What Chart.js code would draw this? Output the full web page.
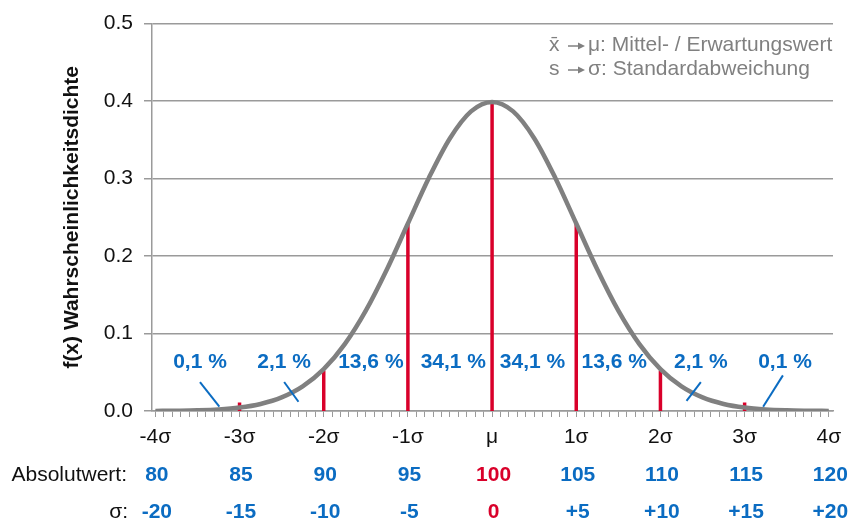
<!DOCTYPE html>
<html>
<head>
<meta charset="utf-8">
<script src="https://cdn.jsdelivr.net/npm/chart.js@4/dist/chart.umd.min.js"></script>
<style>
  body { margin: 0; background: #fff; }
  #wrap { width: 853px; height: 528px; position: relative; }
</style>
</head>
<body>
<div id="wrap"><canvas id="chart"></canvas></div>
<script>
// curve (x in sigma units)
var xSigma = [-4, -3.75, -3.5, -3.25, -3, -2.75, -2.5, -2.25, -2, -1.75, -1.5, -1.25, -1, -0.75, -0.5, -0.25,
              0, 0.25, 0.5, 0.75, 1, 1.25, 1.5, 1.75, 2, 2.25, 2.5, 2.75, 3, 3.25, 3.5, 3.75, 4];
var density = [0.0001, 0.0004, 0.0009, 0.002, 0.0044, 0.0091, 0.0175, 0.0317, 0.054, 0.0863, 0.1295, 0.1826, 0.242, 0.3011, 0.3521, 0.3867,
               0.3989, 0.3867, 0.3521, 0.3011, 0.242, 0.1826, 0.1295, 0.0863, 0.054, 0.0317, 0.0175, 0.0091, 0.0044, 0.002, 0.0009, 0.0004, 0.0001];

// red markers at the sigma borders
var markerX = [-3, -2, -1, 0, 1, 2, 3];
var markerH = [0.011, 0.052, 0.242, 0.399, 0.242, 0.052, 0.011];

var xTickLabels = ['-4σ', '-3σ', '-2σ', '-1σ', 'μ', '1σ', '2σ', '3σ', '4σ'];
var absValues = ['80', '85', '90', '95', '100', '105', '110', '115', '120'];
var sigmaValues = ['-20', '-15', '-10', '-5', '0', '+5', '+10', '+15', '+20'];

// percentage labels
var pctText = ['0,1 %', '2,1 %', '13,6 %', '34,1 %', '34,1 %', '13,6 %', '2,1 %', '0,1 %'];
var pctX = [-3.47, -2.47, -1.44, -0.46, 0.48, 1.45, 2.48, 3.48];
var pctY = 0.063;

// leader lines [x1, y1, x2, y2]
var leaders = [
  [-3.47, 0.0374, -3.24, 0.0055],
  [-2.47, 0.0374, -2.30, 0.0119],
  [2.48, 0.0374, 2.31, 0.0131],
  [3.455, 0.046, 3.22, 0.0055]
];

// legend: [left symbol, right text]
var legendLeft = ['x\u0304', 's'];
var legendRight = ['μ: Mittel- / Erwartungswert', 'σ: Standardabweichung'];

var BLUE = '#0b6cc2';
var RED = '#d9002a';
var GREY = '#808080';
var FONT = '"Liberation Sans", Arial, sans-serif';

var curvePts = xSigma.map(function (x, i) { return {x: x, y: density[i]}; });
var markerPts = [];
markerX.forEach(function (x, i) {
  markerPts.push({x: x, y: 0});
  markerPts.push({x: x, y: markerH[i]});
  markerPts.push({x: x, y: null});
});

var extras = {
  id: 'extras',
  afterDraw: function (chart) {
    var ctx = chart.ctx;
    var xs = chart.scales.x, ys = chart.scales.y;
    ctx.save();

    // leader lines
    ctx.strokeStyle = BLUE;
    ctx.lineWidth = 2;
    leaders.forEach(function (l) {
      ctx.beginPath();
      ctx.moveTo(xs.getPixelForValue(l[0]), ys.getPixelForValue(l[1]));
      ctx.lineTo(xs.getPixelForValue(l[2]), ys.getPixelForValue(l[3]));
      ctx.stroke();
    });

    // percent labels
    ctx.font = 'bold 21px ' + FONT;
    ctx.fillStyle = BLUE;
    ctx.textAlign = 'center';
    ctx.textBaseline = 'middle';
    pctText.forEach(function (t, i) {
      ctx.fillText(t, xs.getPixelForValue(pctX[i]), ys.getPixelForValue(pctY));
    });

    // legend text
    ctx.fillStyle = GREY;
    ctx.strokeStyle = GREY;
    ctx.textAlign = 'left';
    for (var i = 0; i < 2; i++) {
      var ly = 45 + i * 24;
      ctx.font = '21px ' + FONT;
      ctx.fillText(legendLeft[i], 549, ly);
      // small arrow
      ctx.lineWidth = 1.5;
      ctx.beginPath();
      ctx.moveTo(568, ly + 1);
      ctx.lineTo(580, ly + 1);
      ctx.stroke();
      ctx.beginPath();
      ctx.moveTo(585, ly + 1);
      ctx.lineTo(578, ly - 2.5);
      ctx.lineTo(578, ly + 4.5);
      ctx.closePath();
      ctx.fill();
      ctx.fillText(legendRight[i], 588, ly);
    }

    // value rows under the axis
    var rowY = [475, 512];
    ctx.font = '21px ' + FONT;
    ctx.fillStyle = '#111';
    ctx.textAlign = 'right';
    ctx.fillText('Absolutwert:', 127, rowY[0]);
    ctx.fillText('σ:', 128, rowY[1]);
    ctx.font = 'bold 21px ' + FONT;
    ctx.textAlign = 'center';
    for (var k = 0; k < absValues.length; k++) {
      var px = xs.getPixelForValue(k - 4) + 1.5;
      ctx.fillStyle = (k === 4) ? RED : BLUE;
      ctx.fillText(absValues[k], px, rowY[0]);
      ctx.fillText(sigmaValues[k], px, rowY[1]);
    }
    ctx.restore();
  }
};

var chart = new Chart(document.getElementById('chart'), {
  type: 'line',
  data: {
    datasets: [
      {
        label: 'f(x)',
        data: curvePts,
        borderColor: GREY,
        borderWidth: 4.5,
        pointRadius: 0,
        cubicInterpolationMode: 'monotone',
        order: 1
      },
      {
        label: 'sigma',
        data: markerPts,
        borderColor: RED,
        borderWidth: 3.5,
        pointRadius: 0,
        spanGaps: false,
        order: 2
      }
    ]
  },
  options: {
    responsive: true,
    maintainAspectRatio: false,
    animation: false,
    layout: { padding: { top: 19, right: 20, left: 0, bottom: 0 } },
    plugins: { legend: { display: false }, tooltip: { enabled: false } },
    scales: {
      x: {
        type: 'linear',
        min: -4.04,
        max: 4.05,
        afterBuildTicks: function (scale) {
          var t = [];
          for (var k = -40; k <= 40; k++) t.push({value: k / 10});
          scale.ticks = t;
        },
        afterFit: function (scale) { scale.height = 117; },
        grid: { drawOnChartArea: false, tickLength: 6, color: '#9a9a9a', lineWidth: 1 },
        border: { color: '#9a9a9a', width: 1.5 },
        ticks: {
          autoSkip: false,
          maxRotation: 0,
          padding: 8,
          color: '#111',
          font: { family: FONT, size: 21 },
          callback: function (v) {
            var k = Math.round(v * 10);
            return (k % 10 === 0) ? xTickLabels[k / 10 + 4] : '';
          }
        }
      },
      y: {
        min: 0,
        max: 0.5,
        afterFit: function (scale) { scale.width = 152; },
        grid: { color: '#9a9a9a', lineWidth: 1.5, tickLength: 8 },
        border: { color: '#9a9a9a', width: 1.5 },
        ticks: {
          stepSize: 0.1,
          padding: 11,
          color: '#111',
          font: { family: FONT, size: 21 },
          callback: function (v) { return v.toFixed(1); }
        },
        title: {
          display: true,
          text: 'f(x) Wahrscheinlichkeitsdichte',
          color: '#111',
          font: { family: FONT, size: 21, weight: 'bold' },
          padding: { top: 60, bottom: 0 }
        }
      }
    }
  },
  plugins: [extras]
});
</script>
</body>
</html>
